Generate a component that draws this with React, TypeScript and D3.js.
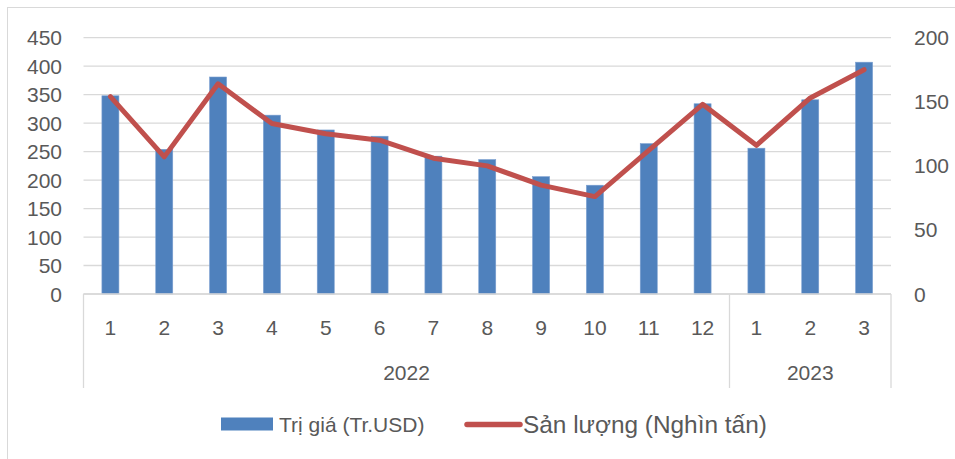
import React from 'react';
import * as d3 from 'd3';

// values
const months = ['1', '2', '3', '4', '5', '6', '7', '8', '9', '10', '11', '12', '1', '2', '3'];
const years = [
  { label: '2022', count: 12 },
  { label: '2023', count: 3 },
];
const triGia = [348, 254, 381, 314, 288, 277, 242, 236, 206, 191, 264, 334, 256, 341, 407];
const sanLuong = [154, 107, 164, 133, 125, 120, 106, 100, 85, 76, 112, 148, 116, 153, 175];
const leftTicks = [0, 50, 100, 150, 200, 250, 300, 350, 400, 450];
const rightTicks = [0, 50, 100, 150, 200];

const W = 955;
const H = 459;
const plot = { left: 83.5, right: 891, top: 37.7, bottom: 294 };
const font = '"Liberation Sans", Arial, sans-serif';
const grey = '#595959';
const gridColor = '#d9d9d9';

export default function App() {
  const x = d3.scaleBand<number>()
    .domain(d3.range(months.length))
    .range([plot.left, plot.right])
    .paddingInner(0.684)
    .paddingOuter(0.342);
  const step = x.step();
  const yL = d3.scaleLinear().domain([0, 450]).range([plot.bottom, plot.top]);
  const yR = d3.scaleLinear().domain([0, 200]).range([plot.bottom, plot.top]);

  const line = d3.line<number>()
    .x((_, i) => (x(i) as number) + x.bandwidth() / 2)
    .y(d => yR(d));

  // year group boundaries
  let acc = 0;
  const groups = years.map(g => {
    const start = plot.left + acc * step;
    acc += g.count;
    return { ...g, start, end: plot.left + acc * step };
  });

  return (
    <svg width={W} height={H} style={{ position: 'absolute', left: 0, top: 0, background: '#fff' }}
      fontFamily={font}>
      <rect x={7.5} y={7.5} width={W + 10} height={H + 10} fill="#fff" stroke={gridColor} />

      {leftTicks.map(t => (
        <line key={'g' + t} x1={plot.left} x2={plot.right} y1={yL(t)} y2={yL(t)}
          stroke={gridColor} strokeWidth={1.3} />
      ))}
      {leftTicks.map(t => (
        <text key={'l' + t} x={62} y={yL(t)} dy="0.36em" textAnchor="end" fontSize={21} fill={grey}>{t}</text>
      ))}
      {rightTicks.map(t => (
        <text key={'r' + t} x={914} y={yR(t)} dy="0.36em" fontSize={21} fill={grey}>{t}</text>
      ))}

      {triGia.map((v, i) => (
        <rect key={'b' + i} x={x(i)} y={yL(v)} width={x.bandwidth()} height={yL(0) - yL(v)}
          fill="#4f81bd" stroke="#7a9fd0" strokeWidth={0.6} />
      ))}

      <path d={line(sanLuong) || ''} fill="none" stroke="#c0504d" strokeWidth={5}
        strokeLinejoin="round" strokeLinecap="round" />

      {/* category axis */}
      <line x1={plot.left} x2={plot.right} y1={plot.bottom} y2={plot.bottom} stroke={gridColor} strokeWidth={1.3} />
      {[plot.left, ...groups.map(g => g.end)].map((gx, i) => (
        <line key={'v' + i} x1={gx} x2={gx} y1={plot.bottom} y2={388} stroke={gridColor} strokeWidth={1.3} />
      ))}
      {months.map((m, i) => (
        <text key={'m' + i} x={(x(i) as number) + x.bandwidth() / 2} y={327} dy="0.36em"
          textAnchor="middle" fontSize={21} fill={grey}>{m}</text>
      ))}
      {groups.map(g => (
        <text key={g.label} x={(g.start + g.end) / 2} y={372} dy="0.36em" textAnchor="middle"
          fontSize={21} fill={grey}>{g.label}</text>
      ))}

      {/* legend */}
      <rect x={221} y={417.5} width={52} height={13} fill="#4f81bd" />
      <text x={279} y={424} dy="0.36em" fontSize={21} fill={grey}>Trị giá (Tr.USD)</text>
      <line x1={467} x2={520} y1={424.5} y2={424.5} stroke="#c0504d" strokeWidth={5.5} strokeLinecap="round" />
      <text x={523} y={424} dy="0.36em" fontSize={24.4} fill={grey}>Sản lượng (Nghìn tấn)</text>
    </svg>
  );
}
